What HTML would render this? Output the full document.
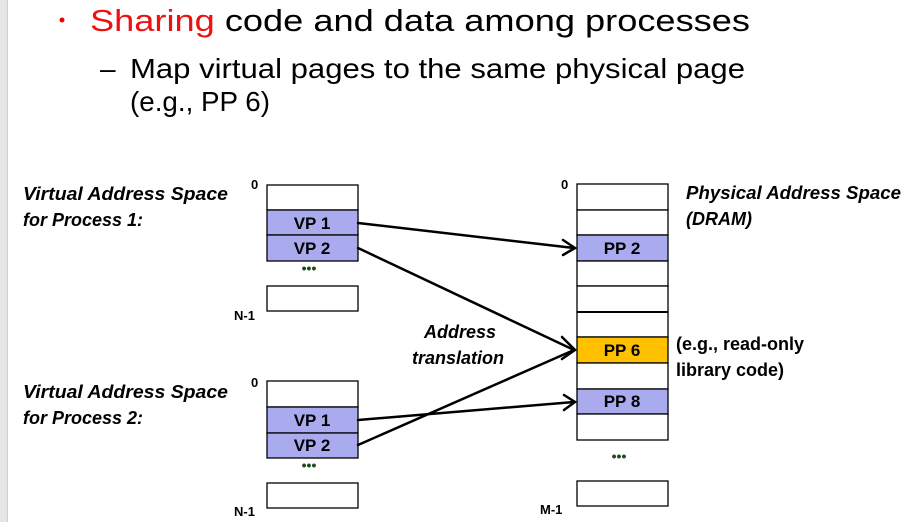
<!DOCTYPE html>
<html><head><meta charset="utf-8"><style>html,body{margin:0;padding:0;background:#fff;}svg{display:block}</style></head>
<body>
<svg width="917" height="522" viewBox="0 0 917 522" xmlns="http://www.w3.org/2000/svg" font-family="Liberation Sans, sans-serif">
<rect x="0" y="0" width="7" height="522" fill="#e6e6e6"/>
<line x1="7.5" y1="0" x2="7.5" y2="522" stroke="#cfcfcf"/>
<circle cx="62" cy="20" r="2.5" fill="#e00"/>
<text x="90" y="31" font-size="31" textLength="660" lengthAdjust="spacingAndGlyphs"><tspan fill="#ee1111">Sharing</tspan> <tspan fill="#000">code and data among processes</tspan></text>
<text x="100" y="78" font-size="28" fill="#000">–</text>
<text x="130" y="78" font-size="28" fill="#000" textLength="615" lengthAdjust="spacingAndGlyphs">Map virtual pages to the same physical page</text>
<text x="130" y="111" font-size="28" fill="#000" textLength="140" lengthAdjust="spacingAndGlyphs">(e.g., PP 6)</text>
<g font-style="italic" font-weight="bold" font-size="18" fill="#000">
<text x="23" y="200" textLength="205" lengthAdjust="spacingAndGlyphs">Virtual Address Space</text>
<text x="23" y="226">for Process 1:</text>
<text x="23" y="398" textLength="205" lengthAdjust="spacingAndGlyphs">Virtual Address Space</text>
<text x="23" y="424">for Process 2:</text>
<text x="686" y="199" textLength="215" lengthAdjust="spacingAndGlyphs">Physical Address Space</text>
<text x="686" y="225">(DRAM)</text>
<text x="424" y="338">Address</text>
<text x="412" y="364">translation</text>
</g>
<g font-weight="bold" font-size="18" fill="#000">
<text x="676" y="350">(e.g., read-only</text>
<text x="676" y="376">library code)</text>
</g>
<g font-weight="bold" font-size="13" fill="#000">
<text x="251" y="189">0</text>
<text x="234" y="320">N-1</text>
<text x="251" y="387">0</text>
<text x="234" y="516">N-1</text>
<text x="561" y="189">0</text>
<text x="540" y="514">M-1</text>
</g>
<g stroke="#000" stroke-width="1.3">
<rect x="267" y="185" width="91" height="25" fill="#fff"/>
<rect x="267" y="210" width="91" height="25" fill="#aaaaee"/>
<rect x="267" y="235" width="91" height="26" fill="#aaaaee"/>
<rect x="267" y="286" width="91" height="25" fill="#fff"/>
<rect x="267" y="381" width="91" height="26" fill="#fff"/>
<rect x="267" y="407" width="91" height="26" fill="#aaaaee"/>
<rect x="267" y="433" width="91" height="25" fill="#aaaaee"/>
<rect x="267" y="483" width="91" height="25" fill="#fff"/>
<rect x="577" y="184" width="91" height="26" fill="#fff"/>
<rect x="577" y="210" width="91" height="25" fill="#fff"/>
<rect x="577" y="235" width="91" height="26" fill="#aaaaee"/>
<rect x="577" y="261" width="91" height="25" fill="#fff"/>
<rect x="577" y="286" width="91" height="26" fill="#fff"/>
<rect x="577" y="312" width="91" height="25" fill="#fff"/>
<rect x="577" y="337" width="91" height="26" fill="#ffc000"/>
<rect x="577" y="363" width="91" height="26" fill="#fff"/>
<rect x="577" y="389" width="91" height="25" fill="#aaaaee"/>
<rect x="577" y="414" width="91" height="26" fill="#fff"/>
<rect x="577" y="481" width="91" height="25" fill="#fff"/>
</g>
<line x1="577" y1="312" x2="668" y2="312" stroke="#000" stroke-width="2"/>
<g font-weight="bold" font-size="17" fill="#000" text-anchor="middle">
<text x="312" y="229">VP 1</text>
<text x="312" y="254">VP 2</text>
<text x="312" y="426">VP 1</text>
<text x="312" y="451">VP 2</text>
<text x="622" y="254">PP 2</text>
<text x="622" y="356">PP 6</text>
<text x="622" y="407">PP 8</text>
</g>
<g fill="#1a4d1a" font-weight="bold" font-size="14" text-anchor="middle">
<text x="309" y="273">•••</text>
<text x="309" y="470">•••</text>
<text x="619" y="461">•••</text>
</g>
<g stroke="#000" stroke-width="2.5" fill="none" stroke-linecap="round">
<line x1="358" y1="223" x2="574" y2="248"/>
<line x1="358" y1="248" x2="574" y2="350"/>
<line x1="358" y1="420" x2="574" y2="402"/>
<line x1="358" y1="445" x2="574" y2="350"/>
<polyline points="563,240 575,248 563,255"/>
<polyline points="562,337 575,350 562,359"/>
<polyline points="564,395 575,402 564,410"/>
</g>
</svg>
</body></html>
